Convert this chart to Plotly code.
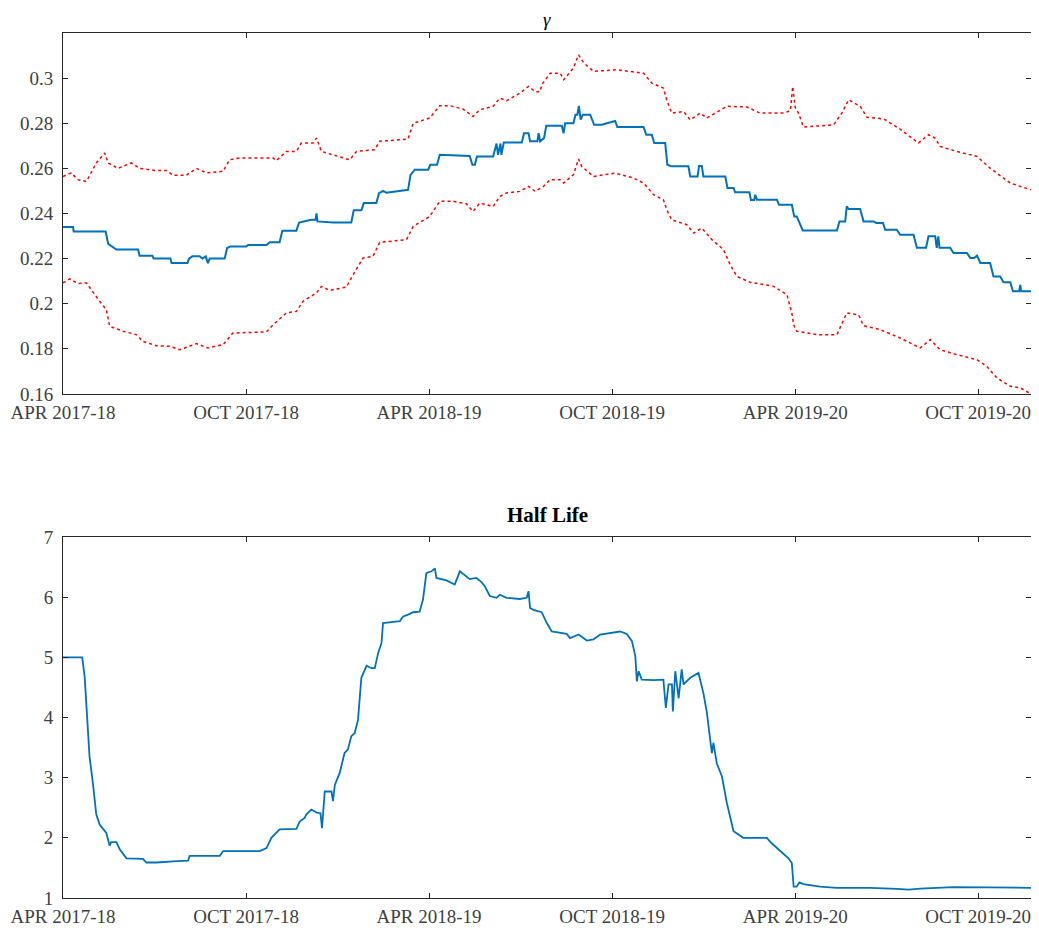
import plotly.graph_objects as go
from plotly.subplots import make_subplots

# x values: months since April 2017
tick_vals = [0, 6, 12, 18, 24, 30]
tick_text = ["APR 2017-18", "OCT 2017-18", "APR 2018-19", "OCT 2018-19", "APR 2019-20", "OCT 2019-20"]

gamma_x = [0.0, 0.33, 0.35, 1.40, 1.48, 1.58, 1.75, 2.46, 2.51, 2.93, 2.97, 3.52, 3.56, 4.08, 4.13, 4.24,
           4.48, 4.57, 4.68, 4.75, 4.81, 5.30, 5.38, 5.49, 6.01, 6.07, 6.67, 6.78, 7.10, 7.19, 7.65, 7.74,
           8.14, 8.28, 8.31, 8.34, 8.85, 9.45, 9.53, 9.78, 9.86, 10.27, 10.36, 10.49, 10.60, 11.31, 11.39,
           11.53, 11.97, 12.04, 12.26, 12.35, 13.33, 13.42, 13.50, 13.57, 14.10, 14.21, 14.26, 14.34, 14.37,
           14.45, 14.97, 15.04, 15.11, 15.26, 15.31, 15.55, 15.59, 15.64, 15.77, 15.84, 16.35, 16.41, 16.46,
           16.73, 16.80, 16.86, 16.91, 16.97, 17.04, 17.28, 17.41, 17.66, 17.83, 18.10, 18.17, 19.03, 19.12,
           19.30, 19.38, 19.74, 19.81, 19.95, 20.50, 20.56, 20.80, 20.85, 20.94, 20.99, 21.71, 21.78, 21.98,
           22.03, 22.50, 22.55, 22.66, 22.69, 22.75, 23.40, 23.47, 23.89, 23.97, 24.05, 24.25, 25.37, 25.45,
           25.64, 25.69, 25.75, 26.13, 26.24, 26.57, 26.66, 26.88, 26.95, 27.33, 27.44, 27.88, 27.99, 28.29,
           28.37, 28.59, 28.64, 28.69, 28.73, 29.08, 29.19, 29.63, 29.74, 29.87, 29.96, 30.07, 30.39, 30.50,
           30.72, 30.83, 31.05, 31.14, 31.34, 31.38, 31.41, 31.73]
gamma_y = [0.234, 0.234, 0.232, 0.232, 0.2265, 0.2255, 0.224, 0.224, 0.2213, 0.2213, 0.220, 0.220, 0.218,
           0.218, 0.220, 0.221, 0.221, 0.220, 0.221, 0.218, 0.220, 0.220, 0.2247, 0.2254, 0.2254, 0.226,
           0.226, 0.2273, 0.2273, 0.2324, 0.2324, 0.236, 0.2372, 0.2372, 0.240, 0.2365, 0.236, 0.236, 0.2414,
           0.2414, 0.2446, 0.2446, 0.249, 0.250, 0.2492, 0.2505, 0.257, 0.2594, 0.2594, 0.2616, 0.2616, 0.266,
           0.2655, 0.2616, 0.2616, 0.2653, 0.2653, 0.271, 0.266, 0.271, 0.266, 0.2715, 0.2715, 0.2715, 0.2756,
           0.2756, 0.272, 0.272, 0.2756, 0.272, 0.2735, 0.2789, 0.2789, 0.2756, 0.280, 0.280, 0.2838, 0.2838,
           0.2877, 0.2816, 0.2838, 0.2838, 0.2793, 0.2793, 0.280, 0.281, 0.2783, 0.2783, 0.2749, 0.2749,
           0.2712, 0.2712, 0.2616, 0.2609, 0.2609, 0.2564, 0.2564, 0.261, 0.261, 0.2564, 0.2564, 0.2513,
           0.2513, 0.2494, 0.2494, 0.246, 0.246, 0.2483, 0.2461, 0.2461, 0.2439, 0.2439, 0.2387, 0.2387,
           0.2325, 0.2325, 0.2365, 0.2365, 0.2432, 0.242, 0.242, 0.2365, 0.2365, 0.2358, 0.2358, 0.2328,
           0.2328, 0.2306, 0.2306, 0.2248, 0.2248, 0.2299, 0.2299, 0.2248, 0.2299, 0.2248, 0.2248, 0.2225,
           0.2225, 0.2203, 0.2203, 0.2213, 0.2181, 0.2181, 0.2121, 0.2121, 0.2095, 0.2095, 0.2055, 0.2055,
           0.2084, 0.2055, 0.2055]

upper_x = [0.0, 0.27, 0.49, 0.77, 1.09, 1.37, 1.48, 1.80, 2.24, 2.51, 3.01, 3.39, 3.61, 4.04, 4.37, 4.70,
           5.25, 5.46, 5.79, 6.89, 6.99, 7.32, 7.65, 7.81, 8.20, 8.31, 8.47, 8.74, 9.40, 9.62, 10.22, 10.38,
           11.31, 11.48, 12.02, 12.35, 12.68, 13.11, 13.44, 13.66, 14.10, 14.32, 14.54, 14.97, 15.26, 15.48,
           15.64, 15.69, 15.97, 16.30, 16.41, 16.73, 16.90, 17.07, 17.39, 18.15, 19.03, 19.30, 19.68, 19.79,
           19.95, 20.34, 20.56, 20.89, 21.10, 21.76, 22.42, 22.85, 23.62, 23.84, 23.92, 24.00, 24.11, 24.27,
           25.26, 25.53, 25.75, 26.13, 26.35, 26.90, 27.44, 28.04, 28.37, 28.59, 28.75, 29.30, 29.96, 30.39,
           31.05, 31.38, 31.73]
upper_y = [0.2564, 0.258, 0.255, 0.2542, 0.2624, 0.2668, 0.2624, 0.260, 0.2624, 0.260, 0.2591, 0.2591,
           0.2569, 0.2569, 0.260, 0.258, 0.2587, 0.2638, 0.2646, 0.2646, 0.2634, 0.2675, 0.2675, 0.2712,
           0.2712, 0.2734, 0.2675, 0.2665, 0.2638, 0.2675, 0.2683, 0.272, 0.273, 0.280, 0.2823, 0.2878,
           0.2878, 0.2863, 0.283, 0.286, 0.2875, 0.2911, 0.290, 0.2933, 0.2963, 0.294, 0.294, 0.297, 0.3022,
           0.3022, 0.2993, 0.3044, 0.3103, 0.3067, 0.303, 0.3037, 0.3022, 0.2978, 0.2956, 0.2904, 0.2845,
           0.2852, 0.2815, 0.2845, 0.2823, 0.2875, 0.2872, 0.2845, 0.2845, 0.2855, 0.2963, 0.287, 0.2845,
           0.2783, 0.2793, 0.2845, 0.2904, 0.2875, 0.2827, 0.2819, 0.2774, 0.2712, 0.2749, 0.2734, 0.2697,
           0.2675, 0.2653, 0.2601, 0.2535, 0.252, 0.2505]

lower_x = [0.0, 0.22, 0.49, 0.77, 1.20, 1.42, 1.53, 1.97, 2.40, 2.62, 3.06, 3.50, 3.83, 4.37, 4.75, 5.25,
           5.57, 6.67, 6.89, 7.32, 7.65, 7.87, 8.31, 8.47, 8.74, 9.29, 9.51, 9.84, 10.16, 10.38, 11.26, 11.48,
           12.02, 12.35, 12.79, 13.22, 13.44, 13.66, 14.10, 14.32, 14.54, 14.97, 15.26, 15.48, 15.75, 15.97,
           16.30, 16.41, 16.73, 16.90, 17.00, 17.39, 18.10, 18.70, 19.03, 19.36, 19.68, 19.79, 19.95, 20.45,
           20.67, 20.94, 21.27, 21.65, 21.87, 22.09, 22.52, 23.29, 23.73, 23.89, 23.95, 24.05, 24.71, 25.37,
           25.69, 26.08, 26.24, 26.79, 27.44, 28.10, 28.43, 28.75, 29.30, 29.96, 30.28, 30.61, 31.05, 31.38,
           31.73]
lower_y = [0.2092, 0.211, 0.2089, 0.2092, 0.2011, 0.1974, 0.190, 0.1878, 0.1863, 0.1833, 0.1814, 0.1811,
           0.1796, 0.1823, 0.1804, 0.1819, 0.187, 0.1875, 0.1907, 0.1959, 0.1966, 0.2011, 0.2048, 0.2077,
           0.2059, 0.2074, 0.2129, 0.2203, 0.221, 0.2272, 0.2284, 0.2343, 0.2387, 0.2454, 0.2454, 0.2443,
           0.2409, 0.2446, 0.2431, 0.2476, 0.2491, 0.2498, 0.252, 0.2498, 0.252, 0.255, 0.255, 0.2535, 0.2572,
           0.2641, 0.2609, 0.2564, 0.2579, 0.2557, 0.2535, 0.2483, 0.2461, 0.2417, 0.2372, 0.235, 0.2313,
           0.2335, 0.2284, 0.224, 0.2173, 0.2121, 0.2095, 0.2077, 0.204, 0.1959, 0.1907, 0.1878, 0.1863,
           0.1863, 0.1959, 0.1951, 0.1903, 0.1885, 0.1848, 0.1804, 0.1841, 0.1796, 0.1774, 0.1752, 0.1723,
           0.1671, 0.1634, 0.1627, 0.160]

half_x = [0.0, 0.63, 0.71, 0.79, 0.87, 0.98, 1.09, 1.20, 1.31, 1.42, 1.53, 1.58, 1.75, 1.86, 2.08, 2.51,
          2.62, 2.73, 3.06, 3.61, 4.10, 4.15, 5.14, 5.25, 6.45, 6.67, 6.83, 7.10, 7.65, 7.76, 7.92, 7.98,
          8.14, 8.31, 8.44, 8.49, 8.58, 8.80, 8.85, 8.91, 9.07, 9.23, 9.34, 9.45, 9.56, 9.67, 9.73, 9.78,
          9.95, 10.11, 10.22, 10.33, 10.44, 10.49, 11.04, 11.15, 11.31, 11.48, 11.69, 11.80, 11.91, 12.08,
          12.19, 12.24, 12.57, 12.84, 13.01, 13.17, 13.33, 13.55, 13.72, 13.83, 13.99, 14.21, 14.32, 14.54,
          14.97, 15.20, 15.26, 15.31, 15.42, 15.69, 15.86, 16.02, 16.51, 16.62, 16.90, 17.17, 17.39, 17.61,
          18.26, 18.48, 18.65, 18.76, 18.81, 18.87, 18.97, 19.36, 19.68, 19.76, 19.85, 19.96, 19.99, 20.07,
          20.18, 20.28, 20.34, 20.56, 20.83, 20.99, 21.10, 21.27, 21.32, 21.43, 21.60, 21.76, 21.98, 22.30,
          23.07, 23.23, 23.51, 23.78, 23.89, 23.95, 24.05, 24.14, 24.27, 24.82, 25.37, 26.46, 27.33, 27.72,
          28.10, 28.98, 29.19, 31.73]
half_y = [5.0, 5.0, 4.68, 3.91, 3.35, 2.91, 2.39, 2.22, 2.14, 2.08, 1.87, 1.93, 1.93, 1.81, 1.66, 1.66,
          1.65, 1.59, 1.59, 1.61, 1.62, 1.70, 1.70, 1.78, 1.78, 1.83, 2.0, 2.14, 2.15, 2.27, 2.33, 2.39,
          2.47, 2.42, 2.41, 2.16, 2.77, 2.77, 2.61, 2.88, 3.08, 3.41, 3.47, 3.69, 3.74, 3.96, 4.32, 4.66,
          4.86, 4.82, 4.82, 5.07, 5.24, 5.57, 5.60, 5.68, 5.71, 5.75, 5.76, 5.96, 6.40, 6.43, 6.48, 6.32,
          6.28, 6.21, 6.43, 6.36, 6.30, 6.32, 6.25, 6.18, 6.02, 5.99, 6.04, 5.99, 5.97, 5.99, 6.10, 5.82,
          5.79, 5.75, 5.57, 5.43, 5.39, 5.32, 5.38, 5.28, 5.30, 5.38, 5.43, 5.39, 5.27, 5.02, 4.60, 4.77,
          4.63, 4.62, 4.63, 4.16, 4.55, 4.55, 4.10, 4.77, 4.32, 4.80, 4.55, 4.66, 4.74, 4.41, 4.10, 3.41,
          3.58, 3.24, 3.02, 2.58, 2.11, 2.0, 2.0, 1.91, 1.78, 1.66, 1.58, 1.19, 1.19, 1.26, 1.23, 1.19,
          1.17, 1.17, 1.15, 1.14, 1.155, 1.17, 1.18, 1.17]

BLUE = "#0072BD"
RED = "#FF0000"
FONT = "Liberation Serif"
TXT = "#404040"
AX = "#262626"

fig = make_subplots(rows=2, cols=1, vertical_spacing=0.1654)

fig.add_trace(go.Scatter(x=upper_x, y=upper_y, mode="lines",
                         line=dict(color=RED, width=1.5, dash="dot"), showlegend=False), row=1, col=1)
fig.add_trace(go.Scatter(x=lower_x, y=lower_y, mode="lines",
                         line=dict(color=RED, width=1.5, dash="dot"), showlegend=False), row=1, col=1)
fig.add_trace(go.Scatter(x=gamma_x, y=gamma_y, mode="lines",
                         line=dict(color=BLUE, width=2), showlegend=False), row=1, col=1)
fig.add_trace(go.Scatter(x=half_x, y=half_y, mode="lines",
                         line=dict(color=BLUE, width=1.8), showlegend=False), row=2, col=1)

axis_common = dict(showline=True, linecolor=AX, linewidth=1, mirror="ticks", ticks="inside",
                   ticklen=5, tickcolor=AX, showgrid=False, zeroline=False, automargin=False,
                   tickfont=dict(family=FONT, size=19, color=TXT))

fig.update_xaxes(range=[0, 31.73], tickvals=tick_vals, ticktext=tick_text,
                 ticklabelstandoff=1, **axis_common)
fig.update_yaxes(range=[0.16, 0.32], tickvals=[0.16, 0.18, 0.2, 0.22, 0.24, 0.26, 0.28, 0.3],
                 ticktext=["0.16", "0.18", "0.2", "0.22", "0.24", "0.26", "0.28", "0.3"],
                 ticklabelstandoff=5, row=1, col=1, **axis_common)
fig.update_yaxes(range=[1, 7], tickvals=[1, 2, 3, 4, 5, 6, 7], ticklabelstandoff=5,
                 row=2, col=1, **axis_common)

# the page body has an 8px default margin, so the figure is sized to fit inside the window
fig.update_layout(
    width=1031, height=922,
    margin=dict(l=55, r=8, t=25, b=32),
    plot_bgcolor="white", paper_bgcolor="white",
    annotations=[
        dict(text="<i>γ</i>", x=0.5, y=1.0, xref="paper", yref="paper", yshift=14,
             xanchor="center", yanchor="middle", showarrow=False,
             font=dict(family=FONT, size=19, color="black")),
        dict(text="<b>Half Life</b>", x=0.5, y=0.4173, xref="paper", yref="paper", yshift=22,
             xanchor="center", yanchor="middle", showarrow=False,
             font=dict(family=FONT, size=21, color="black")),
    ],
)

fig.write_html("out.html")
